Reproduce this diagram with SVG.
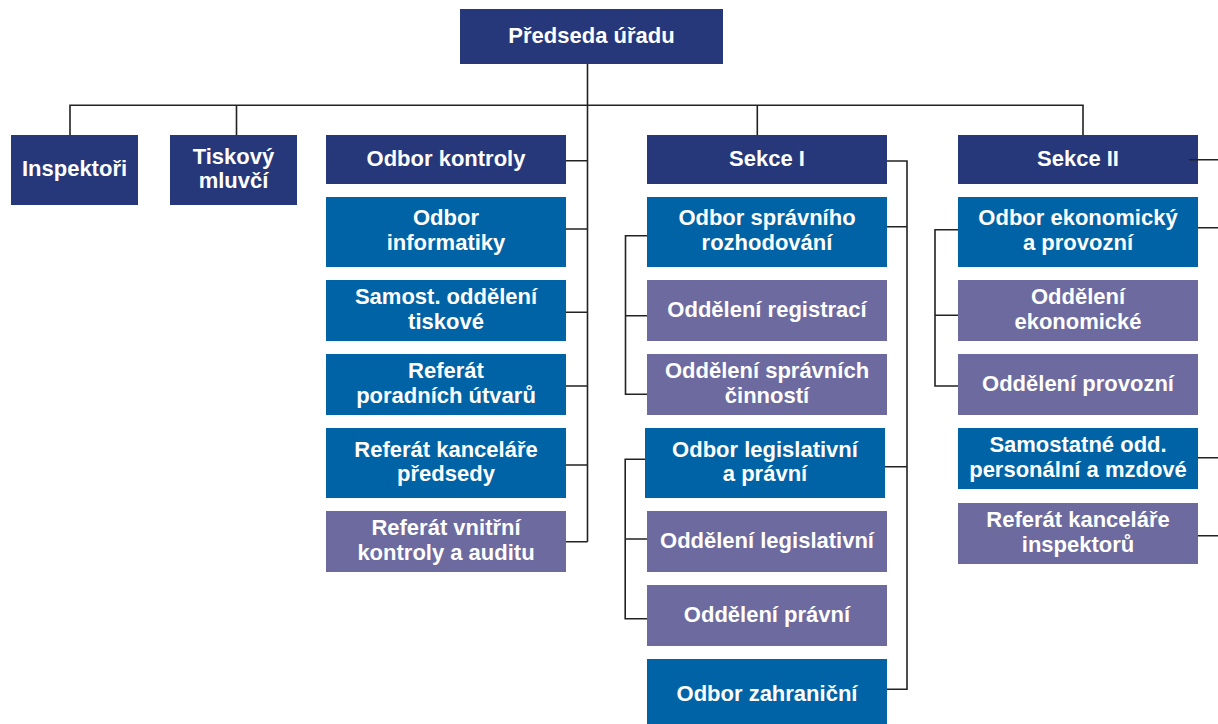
<svg xmlns="http://www.w3.org/2000/svg" width="1218" height="724" viewBox="0 0 1218 724">
<style>
.n{fill:#26387a}
.b{fill:#0063a5}
.p{fill:#6c6a9e}
text{font-family:"Liberation Sans",Arial,sans-serif;font-weight:bold;font-size:22px;fill:#ffffff;text-anchor:middle}
.c{fill:none;stroke:#222222;stroke-width:1.6}
</style>
<rect width="1218" height="724" fill="#ffffff"/>
<g id="predseda"><rect class="n" x="460" y="9" width="263" height="55"/><text x="591.5" y="43">Předseda úřadu</text></g>
<g id="inspektori"><rect class="n" x="11" y="135" width="127" height="70"/><text x="74.5" y="176">Inspektoři</text></g>
<g id="tiskovy"><rect class="n" x="170" y="135" width="127" height="70"/><text x="233.5" y="163.5">Tiskový</text><text x="233.5" y="188">mluvčí</text></g>
<g id="odbor-kontroly"><rect class="n" x="326" y="135" width="240" height="49"/><text x="446" y="165.7">Odbor kontroly</text></g>
<g id="odbor-informatiky"><rect class="b" x="326" y="197" width="240" height="70"/><text x="446" y="225">Odbor</text><text x="446" y="250">informatiky</text></g>
<g id="samost-tiskove"><rect class="b" x="326" y="280" width="240" height="61"/><text x="446" y="304.3">Samost. oddělení</text><text x="446" y="328.5">tiskové</text></g>
<g id="referat-poradnich"><rect class="b" x="326" y="354" width="240" height="61"/><text x="446" y="378.2">Referát</text><text x="446" y="402.5">poradních útvarů</text></g>
<g id="referat-kancelare-predsedy"><rect class="b" x="326" y="428" width="240" height="70"/><text x="446" y="456.5">Referát kanceláře</text><text x="446" y="481">předsedy</text></g>
<g id="referat-vnitrni"><rect class="p" x="326" y="511" width="240" height="61"/><text x="446" y="535.2">Referát vnitřní</text><text x="446" y="559.5">kontroly a auditu</text></g>
<g id="sekce-1"><rect class="n" x="647" y="135" width="240" height="49"/><text x="767" y="165.7">Sekce I</text></g>
<g id="odbor-spravniho"><rect class="b" x="647" y="197" width="240" height="70"/><text x="767" y="225">Odbor správního</text><text x="767" y="250">rozhodování</text></g>
<g id="odd-registraci"><rect class="p" x="647" y="280" width="240" height="61"/><text x="767" y="316.5">Oddělení registrací</text></g>
<g id="odd-spravnich"><rect class="p" x="647" y="354" width="240" height="61"/><text x="767" y="378.2">Oddělení správních</text><text x="767" y="402.5">činností</text></g>
<g id="odbor-legislativni"><rect class="b" x="645" y="428" width="240" height="70"/><text x="765" y="456.5">Odbor legislativní</text><text x="765" y="481">a právní</text></g>
<g id="odd-legislativni"><rect class="p" x="647" y="511" width="240" height="61"/><text x="767" y="547.5">Oddělení legislativní</text></g>
<g id="odd-pravni"><rect class="p" x="647" y="585" width="240" height="61"/><text x="767" y="621.5">Oddělení právní</text></g>
<g id="odbor-zahranicni"><rect class="b" x="647" y="659" width="240" height="70"/><text x="767" y="701">Odbor zahraniční</text></g>
<g id="sekce-2"><rect class="n" x="958" y="135" width="240" height="49"/><text x="1078" y="165.7">Sekce II</text></g>
<g id="odbor-ekonomicky"><rect class="b" x="958" y="197" width="240" height="70"/><text x="1078" y="225">Odbor ekonomický</text><text x="1078" y="250">a provozní</text></g>
<g id="odd-ekonomicke"><rect class="p" x="958" y="280" width="240" height="61"/><text x="1078" y="304.3">Oddělení</text><text x="1078" y="328.5">ekonomické</text></g>
<g id="odd-provozni"><rect class="p" x="958" y="354" width="240" height="61"/><text x="1078" y="390.5">Oddělení provozní</text></g>
<g id="samostatne-odd"><rect class="b" x="958" y="428" width="240" height="61"/><text x="1078" y="452.2">Samostatné odd.</text><text x="1078" y="476.5">personální a mzdové</text></g>
<g id="referat-kancelare-inspektoru"><rect class="p" x="958" y="503" width="240" height="61"/><text x="1078" y="527.2">Referát kanceláře</text><text x="1078" y="551.5">inspektorů</text></g>
<g id="connectors" class="c">
<path d="M587.5 64V541.7M70 135V105.3H1083V135M236.5 105.3V135M757.3 105.3V135"/>
<path d="M566 160.7H587.5M566 229H587.5M566 312.3H587.5M566 386H587.5M566 465H587.5M566 541.7H587.5"/>
<path d="M887 161H907V689.3H887M887 226.7H907M885 466.7H907"/>
<path d="M647 235.7H625.5V394.3H647M625.5 315.7H647"/>
<path d="M645 459.3H625.2V618.7H647M625.2 539H647"/>
<path d="M1189 159.7H1218M1198 227.7H1218M1198 457.7H1218M1198 535.7H1218"/>
<path d="M958 229.7H935V386H958M935 315.3H958"/>
</g>
</svg>
